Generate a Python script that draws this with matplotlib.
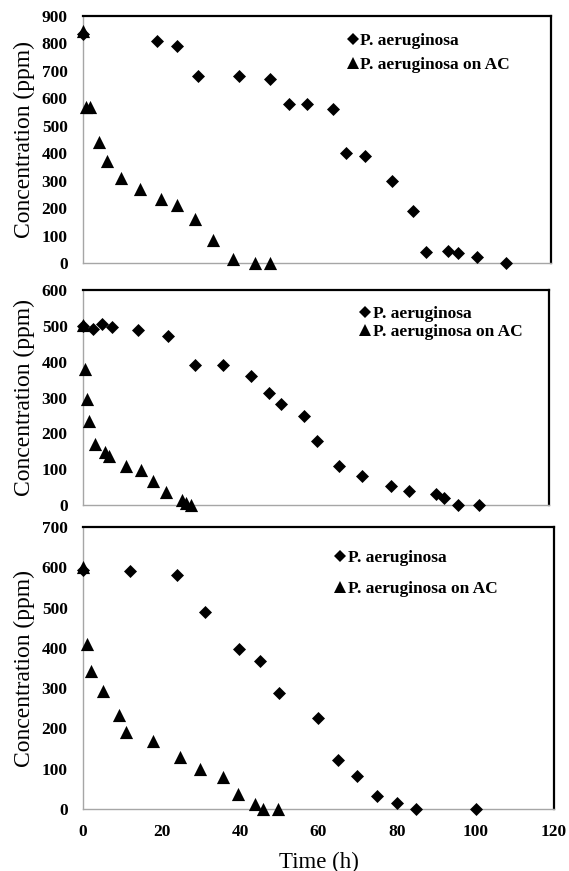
import matplotlib
matplotlib.use("Agg")
import matplotlib.pyplot as plt
from matplotlib.lines import Line2D

plt.rcParams['font.family'] = ['Liberation Serif', 'DejaVu Serif']

# ---------------- data ----------------
# Panel 1
p1_free_t = [0, 19, 24, 29.5, 40, 48, 52.7, 57.5, 64, 67.4, 72.2, 79.2, 84.7, 88, 93.5, 96.2, 101, 108.5]
p1_free_c = [835, 810, 790, 680, 680, 670, 580, 578, 560, 400, 390, 298, 190, 40, 42, 35, 22, 0]
p1_ac_t = [0, 0.8, 1.8, 4, 6.2, 9.7, 14.6, 19.9, 24, 28.8, 33.4, 38.4, 44.2, 48]
p1_ac_c = [845, 570, 570, 440, 370, 310, 270, 235, 210, 160, 85, 15, 0, 0]

# Panel 2
p2_free_t = [0, 2.5, 4.8, 7.4, 14.2, 21.8, 28.8, 36, 43.2, 47.8, 51, 57, 60.2, 66, 71.8, 79.3, 84, 91, 93, 96.5, 102]
p2_free_c = [500, 490, 505, 497, 487, 472, 390, 390, 360, 312, 283, 248, 178, 110, 80, 52, 38, 30, 20, 0, 0]
p2_ac_t = [0, 0.5, 1.1, 1.6, 3.1, 5.7, 6.8, 11, 15, 18, 21.5, 25.4, 26.5, 27.7]
p2_ac_c = [502, 380, 295, 235, 170, 148, 138, 110, 98, 68, 35, 15, 5, 0]

# Panel 3
p3_free_t = [0, 12, 24, 31, 39.8, 45.1, 49.9, 59.9, 64.9, 69.9, 74.8, 79.9, 84.8, 100]
p3_free_c = [593, 590, 580, 490, 398, 368, 288, 225, 122, 82, 32, 15, 0, 0]
p3_ac_t = [0, 1.1, 2, 5.2, 9.2, 11, 17.9, 24.7, 29.8, 35.7, 39.6, 43.8, 45.9, 49.8]
p3_ac_c = [600, 410, 342, 292, 233, 190, 170, 128, 100, 80, 38, 12, 0, 0]

labels = ["P. aeruginosa", "P. aeruginosa on AC"]
x_ticks = [0, 20, 40, 60, 80, 100, 120]

panels = [
    dict(free=(p1_free_t, p1_free_c), ac=(p1_ac_t, p1_ac_c), ymax=900,
         rect=(83, 16, 551, 263), leg=(0.565, 0.93), lsp=0.42),
    dict(free=(p2_free_t, p2_free_c), ac=(p2_ac_t, p2_ac_c), ymax=600,
         rect=(83, 290, 549, 505), leg=(0.595, 0.925), lsp=0.08),
    dict(free=(p3_free_t, p3_free_c), ac=(p3_ac_t, p3_ac_c), ymax=700,
         rect=(83, 527, 554, 809), leg=(0.535, 0.92), lsp=0.9),
]

W, H = 569, 871
fig = plt.figure(figsize=(W / 100, H / 100), dpi=100)

gray = '#a6a6a6'
for i, p in enumerate(panels):
    l, t, r, b = p['rect']
    ax = fig.add_axes([l / W, 1 - b / H, (r - l) / W, (b - t) / H])
    ax.scatter(*p['free'], marker='D', s=44, color='black', zorder=5, clip_on=False, linewidths=0)
    ax.scatter(*p['ac'], marker='^', s=90, color='black', zorder=6, clip_on=False, linewidths=0)
    ax.set_xlim(0, 120)
    ax.set_ylim(0, p['ymax'])
    ax.set_yticks(range(0, p['ymax'] + 1, 100))
    ax.set_xticks(x_ticks)
    ax.tick_params(length=0, pad=11, labelsize=12.5)
    for lab in ax.get_yticklabels() + ax.get_xticklabels():
        lab.set_fontweight('bold')
    if i < 2:
        ax.tick_params(labelbottom=False)
    else:
        ax.set_xlabel("Time (h)", fontsize=16.5, labelpad=8)
    ax.set_ylabel("Concentration (ppm)", fontsize=17)
    ax.yaxis.set_label_coords(-(83 - 35) / (r - l), 0.5)
    ax.spines['left'].set_color(gray)
    ax.spines['bottom'].set_color(gray)
    ax.spines['left'].set_linewidth(1.0)
    ax.spines['bottom'].set_linewidth(1.0)
    ax.spines['top'].set_color('black')
    ax.spines['right'].set_color('black')
    ax.spines['top'].set_linewidth(1.6)
    ax.spines['right'].set_linewidth(1.6)
    handles = [Line2D([], [], marker='D', ms=6.5, color='black', ls='none', mew=0),
               Line2D([], [], marker='^', ms=9, color='black', ls='none', mew=0)]
    ax.legend(handles, labels, loc='upper left', bbox_to_anchor=p['leg'],
              frameon=False, handlelength=0.6, handletextpad=0.15, borderpad=0,
              borderaxespad=0, labelspacing=p['lsp'],
              prop={'family': 'Liberation Serif', 'weight': 'bold', 'size': 12.5})

fig.savefig("out.png", dpi=100)
